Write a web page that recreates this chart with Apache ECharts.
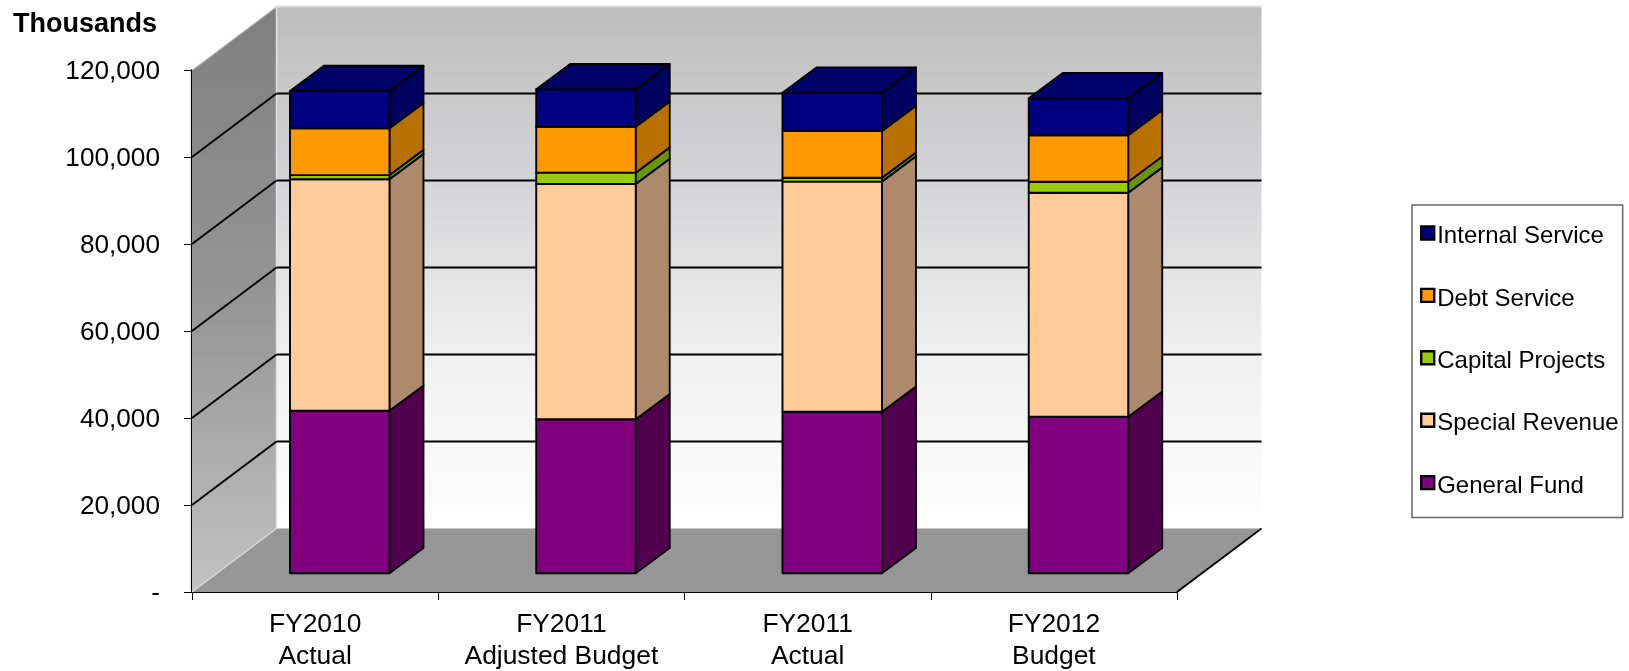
<!DOCTYPE html>
<html>
<head>
<meta charset="utf-8">
<style>html,body{margin:0;padding:0;background:#fff}#chart{width:1629px;height:671px}</style>
<script src="https://cdn.jsdelivr.net/npm/echarts@6/dist/echarts.min.js"></script>
</head>
<body>
<div id="chart"></div>
<script>
// Expenditures by fund, in thousands of dollars
const categories = ['FY2010\nActual', 'FY2011\nAdjusted Budget', 'FY2011\nActual', 'FY2012\nBudget'];
const generalFund = [37380, 35400, 37150, 36000];
const specialRevenue = [53210, 54100, 52890, 51500];
const capitalProjects = [950, 2600, 900, 2520];
const debtService = [10760, 10570, 10740, 10670];
const internalService = [8560, 8600, 8800, 8510];
const yTicks = [20000, 40000, 60000, 80000, 100000];
const legendOrder = ['Internal Service', 'Debt Service', 'Capital Projects', 'Special Revenue', 'General Fund'];

// Stacking order runs from the floor upward
const funds = [
  { name: 'General Fund', values: generalFund, front: '#800080', side: '#50004f' },
  { name: 'Special Revenue', values: specialRevenue, front: '#ffcc99', side: '#ad8a6b' },
  { name: 'Capital Projects', values: capitalProjects, front: '#99cc00', side: '#6b9400' },
  { name: 'Debt Service', values: debtService, front: '#ff9900', side: '#b87000' },
  { name: 'Internal Service', values: internalService, front: '#000080', side: '#000060', top: '#000068' }
];

// Oblique projection of the chart box and of each column inside it
const WALL_DX = 84.5, WALL_DY = -63.5;
const BAR_SHIFT_X = 24.6, BAR_SHIFT_Y = -18.7;
const BAR_DX = 34, BAR_DY = -25.3;
const BAR_RATIO = 0.404;
const EDGE = 1.9;

function poly(points, fill, stroke, width) {
  return {
    type: 'polygon',
    shape: { points },
    style: { fill, stroke: stroke || null, lineWidth: width || 0, lineJoin: 'round' }
  };
}
function seg(x1, y1, x2, y2, stroke, width) {
  return {
    type: 'line',
    shape: { x1, y1, x2, y2 },
    style: { stroke, lineWidth: width, fill: null }
  };
}

function renderBox(params, api) {
  const c = params.coordSys;
  const L = c.x, R = c.x + c.width, T = c.y, B = c.y + c.height;
  const bl = L + WALL_DX, br = R + WALL_DX, bt = T + WALL_DY, bb = B + WALL_DY;
  const vertical = (stops) => ({
    type: 'linear', x: 0, y: 0, x2: 0, y2: 1,
    colorStops: stops.map((s, i) => ({ offset: i / (stops.length - 1), color: s }))
  });
  const children = [
    poly([[bl, bt], [br, bt], [br, bb], [bl, bb]], vertical(['#bdbdbd', '#d4d4d6', '#f0f0f0', '#ffffff'])),
    poly([[L, T], [bl, bt], [bl, bb], [L, B]], vertical(['#7f7f7f', '#959595', '#c2c2c2'])),
    poly([[L, B], [R, B], [br, bb], [bl, bb]], '#969696')
  ];
  // Pale highlights along the box edges
  children.push(seg(L, T, bl, bt, '#d6d6d6', 1.5));
  children.push(seg(bl, bt, br, bt, '#dcdcdc', 2));
  children.push(seg(bl, bt, bl, bb, '#e2e2e2', 1.5));
  children.push(seg(L, B, bl, bb, '#d8d8d8', 1.5));
  children.push(seg(R, B, br, bb, '#000000', 1.8));
  // Gridlines climb the side wall, then cross the back wall
  yTicks.forEach((v) => {
    const y = api.coord([0, v])[1];
    children.push(seg(L, y, bl, y + WALL_DY, '#000000', 2));
    children.push(seg(bl, y + WALL_DY, br, y + WALL_DY, '#000000', 2));
  });
  return { type: 'group', children };
}

function fundSeries(fund, index) {
  const isTop = index === funds.length - 1;
  const data = categories.map((_, i) => {
    let base = 0;
    for (let k = 0; k < index; k++) base += funds[k].values[i];
    return [i, base, base + fund.values[i]];
  });
  return {
    name: fund.name,
    type: 'custom',
    coordinateSystem: 'cartesian2d',
    clip: false,
    silent: true,
    z: 10,
    itemStyle: { color: fund.front },
    encode: { x: 0, y: [1, 2] },
    data,
    renderItem(params, api) {
      const cat = api.value(0);
      const w = api.size([1, 0])[0] * BAR_RATIO;
      const cx = api.coord([cat, 0])[0] + BAR_SHIFT_X;
      const yLo = api.coord([cat, api.value(1)])[1] + BAR_SHIFT_Y;
      const yHi = api.coord([cat, api.value(2)])[1] + BAR_SHIFT_Y;
      const x0 = cx - w / 2, x1 = cx + w / 2;
      const children = [
        poly([[x1, yHi], [x1 + BAR_DX, yHi + BAR_DY], [x1 + BAR_DX, yLo + BAR_DY], [x1, yLo]], fund.side, '#000', EDGE),
        poly([[x0, yHi], [x1, yHi], [x1, yLo], [x0, yLo]], fund.front, '#000', EDGE)
      ];
      if (isTop) {
        children.push(poly([[x0, yHi], [x1, yHi], [x1 + BAR_DX, yHi + BAR_DY], [x0 + BAR_DX, yHi + BAR_DY]], fund.top, '#000', EDGE));
      }
      return { type: 'group', children };
    }
  };
}

const textFont = '"Liberation Sans", Arial, sans-serif';
const chart = echarts.init(document.getElementById('chart'));
chart.setOption({
  animation: false,
  backgroundColor: '#ffffff',
  title: {
    text: 'Thousands',
    left: 13,
    top: 11,
    padding: 0,
    textStyle: { fontFamily: textFont, fontSize: 27, fontWeight: 'bold', color: '#000' }
  },
  grid: { left: 192, top: 70, width: 985, height: 522, containLabel: false, outerBoundsMode: 'none' },
  xAxis: {
    type: 'category',
    data: categories,
    axisLine: { onZero: false, lineStyle: { color: '#000', width: 2.2 } },
    axisTick: { show: true, length: 8, alignWithLabel: false, lineStyle: { color: '#000', width: 1 } },
    axisLabel: { fontFamily: textFont, fontSize: 26.4, color: '#000', margin: 17, lineHeight: 32, interval: 0 },
    splitLine: { show: false }
  },
  yAxis: {
    type: 'value',
    min: 0,
    max: 120000,
    interval: 20000,
    axisLine: { show: true, lineStyle: { color: '#000', width: 2.2 } },
    axisTick: { show: true, length: 8, lineStyle: { color: '#000', width: 1 } },
    axisLabel: {
      margin: 32,
      formatter: (v) => '{t|' + (v === 0 ? '-' : v.toLocaleString('en-US')) + '}',
      rich: { t: { fontFamily: textFont, fontSize: 26.2, color: '#000', padding: [4, 0, 0, 0] } }
    },
    splitLine: { show: false }
  },
  legend: {
    orient: 'vertical',
    left: 1412,
    top: 205,
    data: legendOrder,
    icon: 'rect',
    itemWidth: 13,
    itemHeight: 13,
    itemGap: 38.4,
    padding: [19.5, 4, 19.5, 8],
    borderColor: '#666',
    borderWidth: 1.5,
    selectedMode: false,
    itemStyle: { borderColor: '#000', borderWidth: 2.4 },
    formatter: '{t|{name}}',
    textStyle: {
      rich: { t: { fontFamily: textFont, fontSize: 24, color: '#000', padding: [7, 0, 0, -2] } }
    }
  },
  series: [
    {
      name: 'chart box',
      type: 'custom',
      coordinateSystem: 'cartesian2d',
      clip: false,
      silent: true,
      z: 1,
      encode: { x: 0, y: 1 },
      data: [[0, 0]],
      renderItem: renderBox
    }
  ].concat(funds.map(fundSeries))
});
</script>
</body>
</html>
